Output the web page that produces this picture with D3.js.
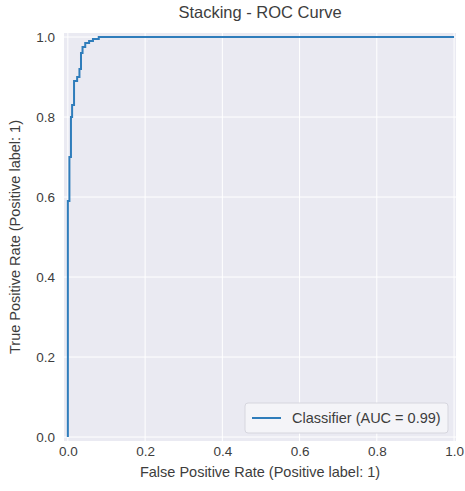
<!DOCTYPE html>
<html><head><meta charset="utf-8">
<script src="https://cdn.jsdelivr.net/npm/d3@7"></script>
<style>body{margin:0;background:#fff;} text{font-family:"Liberation Sans",Arial,sans-serif;}</style>
</head><body>
<svg id="c" width="465" height="491"></svg>
<script>
const title = "Stacking - ROC Curve";
const xLabel = "False Positive Rate (Positive label: 1)";
const yLabel = "True Positive Rate (Positive label: 1)";
const legendLabel = "Classifier (AUC = 0.99)";
const ticks = [0.0, 0.2, 0.4, 0.6, 0.8, 1.0];
const fpr = [0, 0, 0.004, 0.004, 0.008, 0.008, 0.011, 0.011, 0.016, 0.016, 0.024, 0.024, 0.030, 0.030, 0.034, 0.034, 0.038, 0.038, 0.045, 0.045, 0.055, 0.055, 0.065, 0.065, 0.08, 0.08, 1.0];
const tpr = [0, 0.59, 0.59, 0.70, 0.70, 0.80, 0.80, 0.83, 0.83, 0.89, 0.89, 0.90, 0.90, 0.92, 0.92, 0.96, 0.96, 0.975, 0.975, 0.985, 0.985, 0.99, 0.99, 0.995, 0.995, 1.0, 1.0];

const svg = d3.select("#c");
const L = 64, R = 456, T = 33, B = 441;
const x = d3.scaleLinear().domain([-0.01, 1.005]).range([L, R]);
const y = d3.scaleLinear().domain([-0.01, 1.01]).range([B, T]);
const txt = "#3d3d3d";

svg.append("rect").attr("x", L).attr("y", T).attr("width", R - L).attr("height", B - T).attr("fill", "#EAEAF2");

// grid
svg.append("g").selectAll("line").data(ticks).join("line")
  .attr("x1", d => x(d)).attr("x2", d => x(d)).attr("y1", T).attr("y2", B)
  .attr("stroke", "#fff").attr("stroke-width", 1);
svg.append("g").selectAll("line").data(ticks).join("line")
  .attr("y1", d => y(d)).attr("y2", d => y(d)).attr("x1", L).attr("x2", R)
  .attr("stroke", "#fff").attr("stroke-width", 1);

// axes (tick labels only)
const xAxis = d3.axisBottom(x).tickValues(ticks).tickFormat(d3.format(".1f")).tickSize(0).tickPadding(5);
const gx = svg.append("g").attr("transform", `translate(0,${B})`).call(xAxis);
gx.select(".domain").remove();
gx.selectAll("text").attr("font-size", 13.5).attr("fill", txt).attr("font-family", "Liberation Sans, Arial, sans-serif");
const yAxis = d3.axisLeft(y).tickValues(ticks).tickFormat(d3.format(".1f")).tickSize(0).tickPadding(9);
const gy = svg.append("g").attr("transform", `translate(${L},0)`).call(yAxis);
gy.select(".domain").remove();
gy.selectAll("text").attr("font-size", 13.5).attr("fill", txt).attr("font-family", "Liberation Sans, Arial, sans-serif");

// curve
const pts = fpr.map((f, i) => [f, tpr[i]]);
svg.append("path").datum(pts)
  .attr("d", d3.line().x(d => x(d[0])).y(d => y(d[1])))
  .attr("fill", "none").attr("stroke", "#2f7dbb").attr("stroke-width", 2);

// title & labels
svg.append("text").attr("x", 260).attr("y", 18).attr("text-anchor", "middle")
  .attr("font-size", 16.5).attr("fill", txt).text(title);
svg.append("text").attr("x", 260).attr("y", 477).attr("text-anchor", "middle")
  .attr("font-size", 14.5).attr("fill", txt).text(xLabel);
svg.append("text").attr("transform", `translate(20,${(T + B) / 2}) rotate(-90)`).attr("text-anchor", "middle")
  .attr("font-size", 14.5).attr("fill", txt).text(yLabel);

// legend
const lg = svg.append("g");
lg.append("rect").attr("x", 245).attr("y", 403).attr("width", 203).attr("height", 30).attr("rx", 3)
  .attr("fill", "#F4F4F8").attr("stroke", "#D6D6DE").attr("stroke-width", 1);
lg.append("line").attr("x1", 252).attr("x2", 281).attr("y1", 418).attr("y2", 418)
  .attr("stroke", "#2f7dbb").attr("stroke-width", 2);
lg.append("text").attr("x", 292).attr("y", 423).attr("font-size", 14.5).attr("fill", txt).text(legendLabel);
</script>
</body></html>
